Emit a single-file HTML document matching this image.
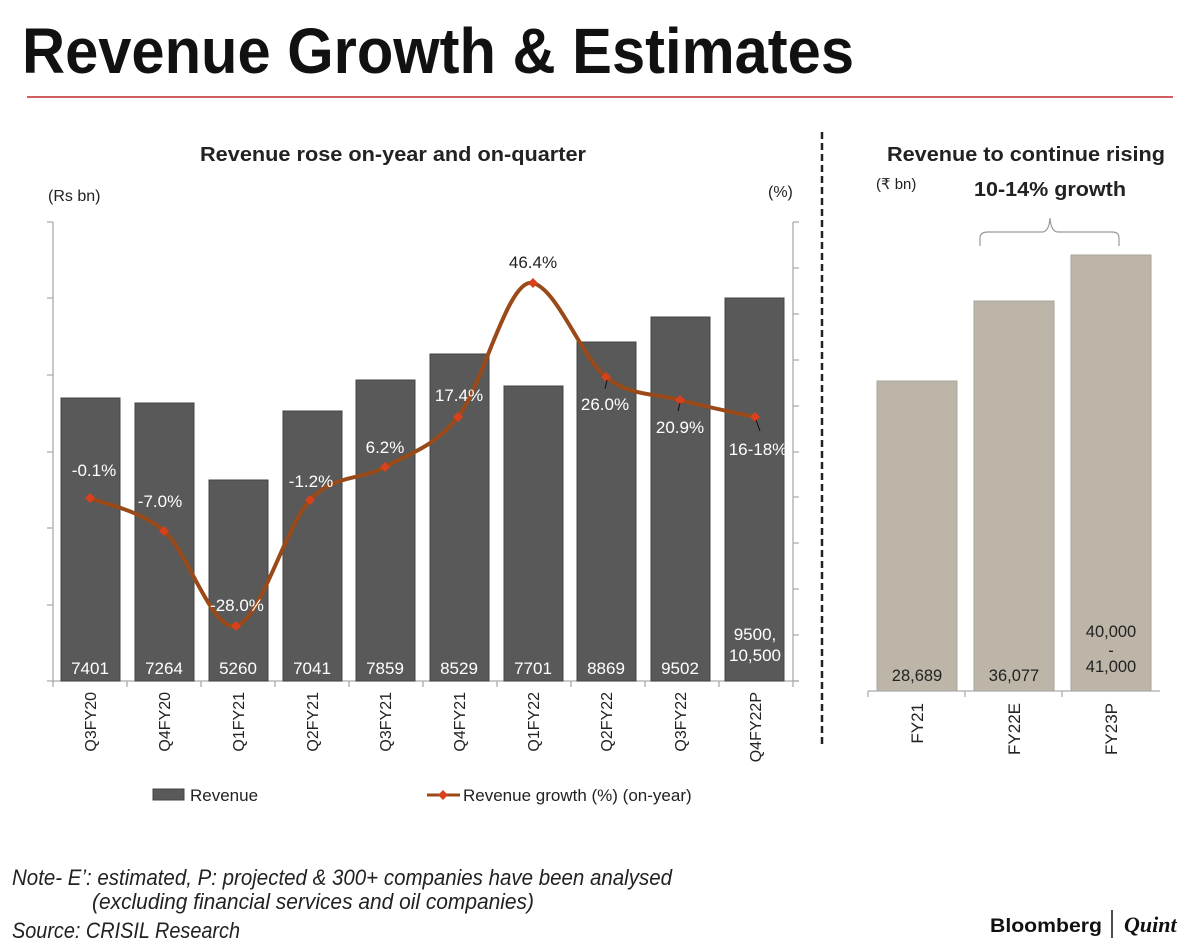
<!DOCTYPE html>
<html><head><meta charset="utf-8"><style>
html,body{margin:0;padding:0;background:#fff;}
svg{display:block;font-family:"Liberation Sans",sans-serif;}
</style></head><body>
<svg width="1200" height="950" viewBox="0 0 1200 950" xmlns="http://www.w3.org/2000/svg">
<rect width="1200" height="950" fill="#fff"/>
<text x="22" y="73" font-family="Liberation Sans Narrow, Liberation Sans, sans-serif" font-weight="bold" font-size="64" textLength="832" lengthAdjust="spacingAndGlyphs" fill="#111">Revenue Growth &amp; Estimates</text>
<line x1="27" y1="97" x2="1173" y2="97" stroke="#c0282d" stroke-width="1.5"/>

<!-- Left chart -->
<text x="200" y="161" font-weight="bold" font-size="20" textLength="386" lengthAdjust="spacingAndGlyphs" fill="#222">Revenue rose on-year and on-quarter</text>
<text x="48" y="201" font-size="16" fill="#222">(Rs bn)</text>
<text x="768" y="197" font-size="16" fill="#222">(%)</text>
<g stroke="#aaa" stroke-width="1.3" fill="none">
<line x1="53" y1="222" x2="53" y2="681"/>
<path d="M47 222H53M47 298H53M47 375H53M47 452H53M47 528H53M47 605H53"/>
<line x1="793" y1="222" x2="793" y2="681"/>
<path d="M793 222H799M793 268H799M793 314H799M793 360H799M793 406H799M793 452H799M793 497H799M793 543H799M793 589H799M793 635H799M793 681H799"/>
<line x1="47" y1="681" x2="799" y2="681"/>
<path d="M53 681V687M127 681V687M201 681V687M275 681V687M349 681V687M423 681V687M497 681V687M571 681V687M645 681V687M719 681V687M793 681V687"/>
</g>
<g fill="#595959" stroke="#444" stroke-width="1">
<rect x="61" y="398" width="59" height="283"/>
<rect x="135" y="403" width="59" height="278"/>
<rect x="209" y="480" width="59" height="201"/>
<rect x="283" y="411" width="59" height="270"/>
<rect x="356" y="380" width="59" height="301"/>
<rect x="430" y="354" width="59" height="327"/>
<rect x="504" y="386" width="59" height="295"/>
<rect x="577" y="342" width="59" height="339"/>
<rect x="651" y="317" width="59" height="364"/>
<rect x="725" y="298" width="59" height="383"/>
</g>
<g fill="#fff" font-size="17" text-anchor="middle">
<text x="90" y="674">7401</text>
<text x="164" y="674">7264</text>
<text x="238" y="674">5260</text>
<text x="312" y="674">7041</text>
<text x="385" y="674">7859</text>
<text x="459" y="674">8529</text>
<text x="533" y="674">7701</text>
<text x="606" y="674">8869</text>
<text x="680" y="674">9502</text>
<text x="755" y="640">9500,</text>
<text x="755" y="661">10,500</text>
</g>
<path d="M90 498C102.3 503.5 139.7 509.7 164 531C188.3 552.3 211.7 631.2 236 626C260.3 620.8 285.2 526.5 310 500C334.8 473.5 360.3 480.8 385 467C409.7 453.2 433.3 447.7 458 417C482.7 386.3 508.3 276.3 533 283C557.7 289.7 581.5 357.5 606 377C630.5 396.5 655.2 393.3 680 400C704.8 406.7 742.5 414.2 755 417" fill="none" stroke="#9a4a18" stroke-width="4"/>
<g fill="#d9401c">
<path d="M90 493l5 5-5 5-5-5z"/><path d="M164 526l5 5-5 5-5-5z"/><path d="M236 621l5 5-5 5-5-5z"/><path d="M310 495l5 5-5 5-5-5z"/><path d="M385 462l5 5-5 5-5-5z"/><path d="M458 412l5 5-5 5-5-5z"/><path d="M533 278l5 5-5 5-5-5z"/><path d="M606 372l5 5-5 5-5-5z"/><path d="M680 395l5 5-5 5-5-5z"/><path d="M755 412l5 5-5 5-5-5z"/>
</g>
<g stroke="#111" stroke-width="1"><path d="M607 380L605 389M680 403L678 411M756 420L760 431"/></g>
<g fill="#fff" font-size="17" text-anchor="middle">
<text x="94" y="476">-0.1%</text>
<text x="160" y="507">-7.0%</text>
<text x="237" y="611">-28.0%</text>
<text x="311" y="487">-1.2%</text>
<text x="385" y="453">6.2%</text>
<text x="459" y="401">17.4%</text>
<text x="605" y="410">26.0%</text>
<text x="680" y="433">20.9%</text>
<text x="758" y="455">16-18%</text>
</g>
<text x="533" y="268" text-anchor="middle" font-size="17" fill="#222">46.4%</text>
<g font-size="16" fill="#222" text-anchor="end">
<text transform="translate(96,692) rotate(-90)">Q3FY20</text>
<text transform="translate(170,692) rotate(-90)">Q4FY20</text>
<text transform="translate(244,692) rotate(-90)">Q1FY21</text>
<text transform="translate(318,692) rotate(-90)">Q2FY21</text>
<text transform="translate(391,692) rotate(-90)">Q3FY21</text>
<text transform="translate(465,692) rotate(-90)">Q4FY21</text>
<text transform="translate(539,692) rotate(-90)">Q1FY22</text>
<text transform="translate(612,692) rotate(-90)">Q2FY22</text>
<text transform="translate(686,692) rotate(-90)">Q3FY22</text>
<text transform="translate(761,692) rotate(-90)">Q4FY22P</text>
</g>
<rect x="153" y="789" width="31" height="11" fill="#595959" stroke="#444"/>
<text x="190" y="801" font-size="17" fill="#222">Revenue</text>
<line x1="427" y1="795" x2="460" y2="795" stroke="#9a4a18" stroke-width="3"/>
<path d="M443 790l5 5-5 5-5-5z" fill="#d9401c"/>
<text x="463" y="801" font-size="17" fill="#222">Revenue growth (%) (on-year)</text>

<line x1="822" y1="132" x2="822" y2="745" stroke="#222" stroke-width="2.5" stroke-dasharray="7,4"/>

<!-- Right chart -->
<text x="887" y="161" font-weight="bold" font-size="20" textLength="278" lengthAdjust="spacingAndGlyphs" fill="#222">Revenue to continue rising</text>
<text x="876" y="189" font-size="15" fill="#222">(₹ bn)</text>
<text x="974" y="196" font-weight="bold" font-size="20" textLength="152" lengthAdjust="spacingAndGlyphs" fill="#222">10-14% growth</text>
<path d="M980 246L980 238Q980 232 988 232L1042 232Q1049 232 1050 218Q1051 232 1058 232L1112 232Q1119 232 1119 238L1119 246" fill="none" stroke="#999" stroke-width="1.2"/>
<g fill="#bcb5a8" stroke="#aaa49a">
<rect x="877" y="381" width="80" height="310"/>
<rect x="974" y="301" width="80" height="390"/>
<rect x="1071" y="255" width="80" height="436"/>
</g>
<g stroke="#aaa" stroke-width="1.2"><path d="M868 691H1160M868 691V697M965 691V697M1062 691V697"/></g>
<g font-size="16.5" fill="#222" text-anchor="middle">
<text x="917" y="681">28,689</text>
<text x="1014" y="681">36,077</text>
<text x="1111" y="637">40,000</text>
<text x="1111" y="656">-</text>
<text x="1111" y="672">41,000</text>
</g>
<g font-size="17" fill="#222" text-anchor="end">
<text transform="translate(923,703) rotate(-90)">FY21</text>
<text transform="translate(1020,703) rotate(-90)">FY22E</text>
<text transform="translate(1117,703) rotate(-90)">FY23P</text>
</g>

<!-- Footer -->
<g font-family="Liberation Sans Narrow, Liberation Sans, sans-serif" font-style="italic" font-size="22" fill="#222">
<text x="12" y="885" textLength="660" lengthAdjust="spacingAndGlyphs">Note- E’: estimated, P: projected &amp; 300+ companies have been analysed</text>
<text x="92" y="909" textLength="442" lengthAdjust="spacingAndGlyphs">(excluding financial services and oil companies)</text>
<text x="12" y="938" textLength="228" lengthAdjust="spacingAndGlyphs">Source: CRISIL Research</text>
</g>
<text x="990" y="932" font-weight="bold" font-size="19" fill="#111" textLength="112" lengthAdjust="spacingAndGlyphs">Bloomberg</text>
<line x1="1112" y1="910" x2="1112" y2="938" stroke="#111" stroke-width="1.5"/>
<text x="1124" y="932" font-family="Liberation Serif, serif" font-style="italic" font-weight="bold" font-size="22" fill="#111">Quint</text>
</svg>
</body></html>
